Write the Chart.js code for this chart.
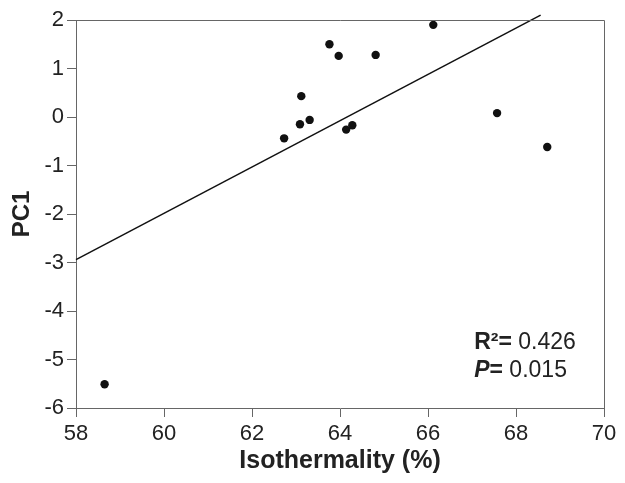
<!DOCTYPE html>
<html>
<head>
<meta charset="utf-8">
<script src="https://cdn.jsdelivr.net/npm/chart.js@4"></script>
<style>
  html, body { margin: 0; padding: 0; background: #fff; }
  #wrap { width: 625px; height: 483px; }
</style>
</head>
<body>
<div id="wrap"><canvas id="scatter" width="625" height="483"></canvas></div>
<script>
// Data
const isothermality = [66.12, 63.76, 63.97, 64.81, 63.12, 63.09, 63.31, 62.73, 64.14, 64.28, 67.57, 68.71, 58.65];
const pc1 = [1.90, 1.50, 1.26, 1.28, 0.43, -0.15, -0.06, -0.44, -0.26, -0.17, 0.08, -0.62, -5.51];

// Fitted line end points
const fitX = [58, 68.56];
const fitY = [-2.94, 2.10];

const xTicks = [58, 60, 62, 64, 66, 68, 70];
const yTicks = [-6, -5, -4, -3, -2, -1, 0, 1, 2];

const statsLines = [
    { bold: 'R\u00b2=', italic: false, value: ' 0.426', x: 67.05, y: -4.78 },
    { bold: 'P', italic: true, eq: '=', value: ' 0.015', x: 67.05, y: -5.37 }
];

const axisColor = '#666';
const fontFamily = "'Liberation Sans', Arial, sans-serif";

// Frame around the plot area (top & right sides)
const framePlugin = {
    id: 'frame',
    afterDraw(chart) {
        const { ctx, chartArea: a } = chart;
        ctx.save();
        ctx.strokeStyle = axisColor;
        ctx.lineWidth = 1;
        ctx.beginPath();
        ctx.moveTo(a.left, a.top + 0.5);
        ctx.lineTo(a.right + 0.5, a.top + 0.5);
        ctx.lineTo(a.right + 0.5, a.bottom);
        ctx.stroke();
        ctx.restore();
    }
};

// R² / P annotation
const statsPlugin = {
    id: 'stats',
    afterDraw(chart) {
        const { ctx, scales } = chart;
        ctx.save();
        ctx.fillStyle = '#222';
        ctx.textBaseline = 'alphabetic';
        statsLines.forEach(line => {
            let px = scales.x.getPixelForValue(line.x);
            const py = scales.y.getPixelForValue(line.y);
            ctx.font = (line.italic ? 'italic ' : '') + 'bold 23px ' + fontFamily;
            ctx.fillText(line.bold, px, py);
            px += ctx.measureText(line.bold).width;
            if (line.eq) {
                ctx.font = 'bold 23px ' + fontFamily;
                ctx.fillText(line.eq, px, py);
                px += ctx.measureText(line.eq).width;
            }
            ctx.font = '23px ' + fontFamily;
            ctx.fillText(line.value, px, py);
        });
        ctx.restore();
    }
};

const ctx = document.getElementById('scatter').getContext('2d');
new Chart(ctx, {
    type: 'scatter',
    data: {
        datasets: [
            {
                data: isothermality.map((v, i) => ({ x: v, y: pc1[i] })),
                backgroundColor: '#111',
                borderWidth: 0,
                pointRadius: 4.2
            },
            {
                type: 'line',
                data: fitX.map((v, i) => ({ x: v, y: fitY[i] })),
                borderColor: '#111',
                borderWidth: 1.5,
                pointRadius: 0,
                fill: false,
                clip: false
            }
        ]
    },
    options: {
        responsive: false,
        animation: false,
        layout: { padding: { top: 20, right: 21, left: 0, bottom: 0 } },
        plugins: {
            legend: { display: false },
            tooltip: { enabled: false }
        },
        scales: {
            x: {
                type: 'linear',
                min: 58,
                max: 70,
                afterFit(scale) { scale.height = 75; },
                afterBuildTicks(scale) { scale.ticks = xTicks.map(v => ({ value: v })); },
                border: { display: true, color: axisColor, width: 1 },
                grid: { drawOnChartArea: false, drawTicks: true, tickLength: 9, color: axisColor },
                ticks: { color: '#222', padding: 4, font: { size: 22, family: fontFamily } },
                title: {
                    display: true,
                    text: 'Isothermality (%)',
                    color: '#222',
                    padding: { top: 0, bottom: 7 },
                    font: { size: 25, weight: 'bold', family: fontFamily }
                }
            },
            y: {
                type: 'linear',
                min: -6,
                max: 2,
                afterFit(scale) { scale.width = 76; },
                afterBuildTicks(scale) { scale.ticks = yTicks.map(v => ({ value: v })); },
                border: { display: true, color: axisColor, width: 1 },
                grid: { drawOnChartArea: false, drawTicks: true, tickLength: 9, color: axisColor },
                ticks: { color: '#222', padding: 3, font: { size: 22, family: fontFamily } },
                title: {
                    display: true,
                    text: 'PC1',
                    color: '#222',
                    padding: { top: 8, bottom: 0 },
                    font: { size: 24, weight: 'bold', family: fontFamily }
                }
            }
        }
    },
    plugins: [framePlugin, statsPlugin]
});
</script>
</body>
</html>
